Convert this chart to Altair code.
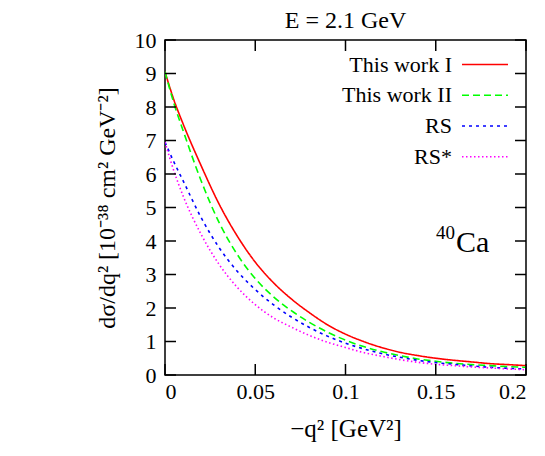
import altair as alt
import pandas as pd

# ---- data ----
q = [0, 0.005, 0.01, 0.02, 0.03, 0.04, 0.05, 0.06, 0.07, 0.08, 0.09, 0.10,
     0.11, 0.12, 0.13, 0.14, 0.15, 0.16, 0.17, 0.18, 0.19, 0.20]
work1 = [9.05, 8.2, 7.5, 6.25, 5.1, 4.15, 3.37, 2.76, 2.27, 1.86, 1.50, 1.22,
         1.0, 0.82, 0.68, 0.58, 0.50, 0.44, 0.39, 0.34, 0.31, 0.28]
work2 = [9.05, 8.1, 7.3, 5.8, 4.55, 3.6, 2.88, 2.34, 1.92, 1.57, 1.28, 1.04,
         0.85, 0.70, 0.58, 0.48, 0.41, 0.35, 0.31, 0.28, 0.25, 0.23]
rs = [6.95, 6.35, 5.8, 4.7, 3.8, 3.1, 2.55, 2.1, 1.73, 1.42, 1.16, 0.95,
      0.78, 0.64, 0.53, 0.44, 0.37, 0.32, 0.27, 0.23, 0.20, 0.18]
rs_star = [6.95, 6.08, 5.35, 4.2, 3.3, 2.62, 2.1, 1.71, 1.43, 1.18, 0.98, 0.82,
           0.67, 0.56, 0.46, 0.38, 0.32, 0.28, 0.24, 0.21, 0.18, 0.16]

series = ["This work I", "This work II", "RS", "RS*"]
colors = ["#ff0000", "#00ff00", "#0000ff", "#ff00ff"]
dashes = [[1, 0], [7, 4], [3, 4], [1.5, 2.5]]

x_ticks = [0, 0.05, 0.1, 0.15, 0.2]
y_ticks = [0, 1, 2, 3, 4, 5, 6, 7, 8, 9, 10]

ann_x = [0.1607]
ann_y = [3.93]
ann_sup = ["40"]
ann_main = ["Ca"]

title_text = "E = 2.1 GeV"
x_title = "−q² [GeV²]"
y_title = "dσ/dq² [10⁻³⁸ cm² GeV⁻²]"

# ---- build tables ----
rows = []
for name, vals in zip(series, [work1, work2, rs, rs_star]):
    for qq, v in zip(q, vals):
        rows.append({"q": qq, "v": v, "series": name})
df = pd.DataFrame(rows)
leg = pd.DataFrame({"series": series})
xt = pd.DataFrame({"t": x_ticks})
yt = pd.DataFrame({"t": y_ticks})
ann = pd.DataFrame({"x": ann_x, "y": ann_y, "sup": ann_sup, "main": ann_main})

W, H = 361, 335
FONT = "Liberation Serif"
xscale = alt.Scale(domain=[0, 0.2], nice=False)
yscale = alt.Scale(domain=[0, 10], nice=False)
cscale = alt.Scale(domain=series, range=colors)
dscale = alt.Scale(domain=series, range=dashes)

x_axis = alt.Axis(values=x_ticks, format="~g", title=x_title, titleFontSize=25,
                  titleY=53, titleBaseline="middle", labelPadding=6)


def X(field):
    return alt.X(field, scale=xscale, axis=x_axis)


lines = alt.Chart(df).mark_line(strokeWidth=1.6, interpolate="monotone", clip=True).encode(
    x=X("q:Q"),
    y=alt.Y("v:Q", scale=yscale,
            axis=alt.Axis(values=y_ticks, format="d", title=y_title, titleFontSize=24,
                          titleX=-58, titleBaseline="middle", labelPadding=9)),
    color=alt.Color("series:N", scale=cscale, legend=None),
    strokeDash=alt.StrokeDash("series:N", scale=dscale, legend=None),
    detail="series:N",
)

tick_style = dict(color="black", strokeWidth=1.5)
left_t = alt.Chart(yt).mark_rule(**tick_style).encode(
    y=alt.Y("t:Q", scale=yscale, axis=None), x=alt.value(0), x2=alt.value(11))
right_t = alt.Chart(yt).mark_rule(**tick_style).encode(
    y=alt.Y("t:Q", scale=yscale, axis=None), x=alt.value(W - 11), x2=alt.value(W))
bottom_t = alt.Chart(xt).mark_rule(**tick_style).encode(
    x=X("t:Q"), y=alt.value(H - 11), y2=alt.value(H))
top_t = alt.Chart(xt).mark_rule(**tick_style).encode(
    x=X("t:Q"), y=alt.value(0), y2=alt.value(11))

annot_main = alt.Chart(ann).mark_text(font=FONT, fontSize=30, color="black",
                                      align="left", baseline="middle", dx=1).encode(
    x=X("x:Q"), y=alt.Y("y:Q", scale=yscale, axis=None), text="main:N")
annot_sup = alt.Chart(ann).mark_text(font=FONT, fontSize=19, color="black",
                                     align="right", baseline="middle", dy=-10).encode(
    x=X("x:Q"), y=alt.Y("y:Q", scale=yscale, axis=None), text="sup:N")

legy = alt.Y("series:N", sort=series,
             scale=alt.Scale(type="point", domain=series, range=[24.5, 116.7], padding=0),
             axis=None)
leg_text = alt.Chart(leg).mark_text(font=FONT, fontSize=22, align="right",
                                    baseline="middle", color="black").encode(
    x=alt.value(287), y=legy, text="series:N")
leg_line = alt.Chart(leg).mark_rule(strokeWidth=1.6).encode(
    x=alt.value(297), x2=alt.value(343), y=legy,
    color=alt.Color("series:N", scale=cscale, legend=None),
    strokeDash=alt.StrokeDash("series:N", scale=dscale, legend=None))

chart = alt.layer(
    lines, left_t, right_t, bottom_t, top_t, annot_main, annot_sup, leg_text, leg_line
).resolve_scale(y="independent").properties(
    width=W, height=H,
    autosize=alt.AutoSizeParams(type="none"),
    padding={"left": 157, "top": 32, "right": 10, "bottom": 67},
    title=alt.TitleParams(text=title_text, font=FONT, fontSize=24, fontWeight="normal",
                          color="black", anchor="middle", frame="group", offset=-4),
).configure_view(stroke="black", strokeWidth=1.5).configure_axis(
    grid=False, ticks=False, domain=False,
    labelFont=FONT, labelFontSize=22, labelColor="black",
    titleFont=FONT, titleFontSize=22, titleColor="black", titleFontWeight="normal",
)

chart.save("out.html", embed_options={"renderer": "svg", "actions": False})
